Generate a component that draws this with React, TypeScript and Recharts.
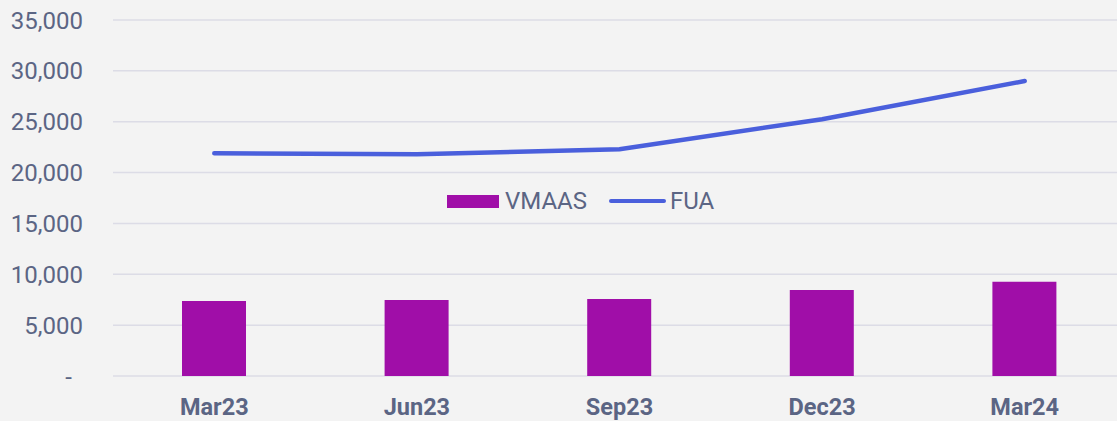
import React from "react";
import { ComposedChart, Bar, Line, XAxis, YAxis, CartesianGrid } from "recharts";

const categories = ["Mar23", "Jun23", "Sep23", "Dec23", "Mar24"];
const vmaas = [7370, 7470, 7560, 8450, 9260];
const fua = [21900, 21800, 22300, 25250, 29000];
const yTicks = [0, 5000, 10000, 15000, 20000, 25000, 30000, 35000];
const seriesNames = ["VMAAS", "FUA"];

const data = categories.map((c, i) => ({ name: c, VMAAS: vmaas[i], FUA: fua[i] }));

const TEXT = "#5B6584";
const BAR = "#A00EA8";
const LINE = "#4A5FDC";
const FONT = "Roboto, 'Noto Sans', sans-serif";

const YTick = (props: any) => {
  const { x, y, payload } = props;
  const v = payload.value as number;
  const label = v === 0 ? "-" : v.toLocaleString("en-US");
  return (
    <text x={v === 0 ? x - 11 : x} y={y} dy="0.355em" textAnchor="end" fill={TEXT} fontSize={24} fontFamily={FONT}>
      {label}
    </text>
  );
};

export default function App() {
  return (
    <div style={{ position: "absolute", left: 0, top: 0, width: 1117, height: 421, overflow: "hidden", background: "#F3F3F3" }}>
      <ComposedChart width={1130} height={421} data={data} margin={{ top: 20, right: 4, bottom: 15, left: 0 }}>
        <CartesianGrid vertical={false} stroke="#DCDCE6" strokeWidth={1.5} />
        <XAxis
          dataKey="name"
          height={30}
          axisLine={false}
          tickLine={false}
          tickSize={0}
          tickMargin={22}
          tick={{ fill: TEXT, fontSize: 23.5, fontWeight: 700, fontFamily: FONT }}
        />
        <YAxis
          width={113}
          domain={[0, 35000]}
          ticks={yTicks}
          axisLine={false}
          tickLine={false}
          tickSize={0}
          tickMargin={30}
          tick={<YTick />}
          interval={0}
        />
        <Bar dataKey="VMAAS" fill={BAR} barSize={64} isAnimationActive={false} />
        <Line dataKey="FUA" type="linear" stroke={LINE} strokeWidth={4.5} strokeLinecap="round" dot={false} isAnimationActive={false} />
      </ComposedChart>
      <div
        style={{
          position: "absolute",
          top: 186,
          left: 447,
          display: "flex",
          alignItems: "center",
          fontFamily: FONT,
          fontSize: 24,
          color: TEXT,
          height: 30,
        }}
      >
        <div style={{ width: 52, height: 13, background: BAR, marginRight: 6 }} />
        <span>{seriesNames[0]}</span>
        <div style={{ width: 57, height: 4.5, background: LINE, borderRadius: 2, marginLeft: 22, marginRight: 4 }} />
        <span>{seriesNames[1]}</span>
      </div>
    </div>
  );
}
